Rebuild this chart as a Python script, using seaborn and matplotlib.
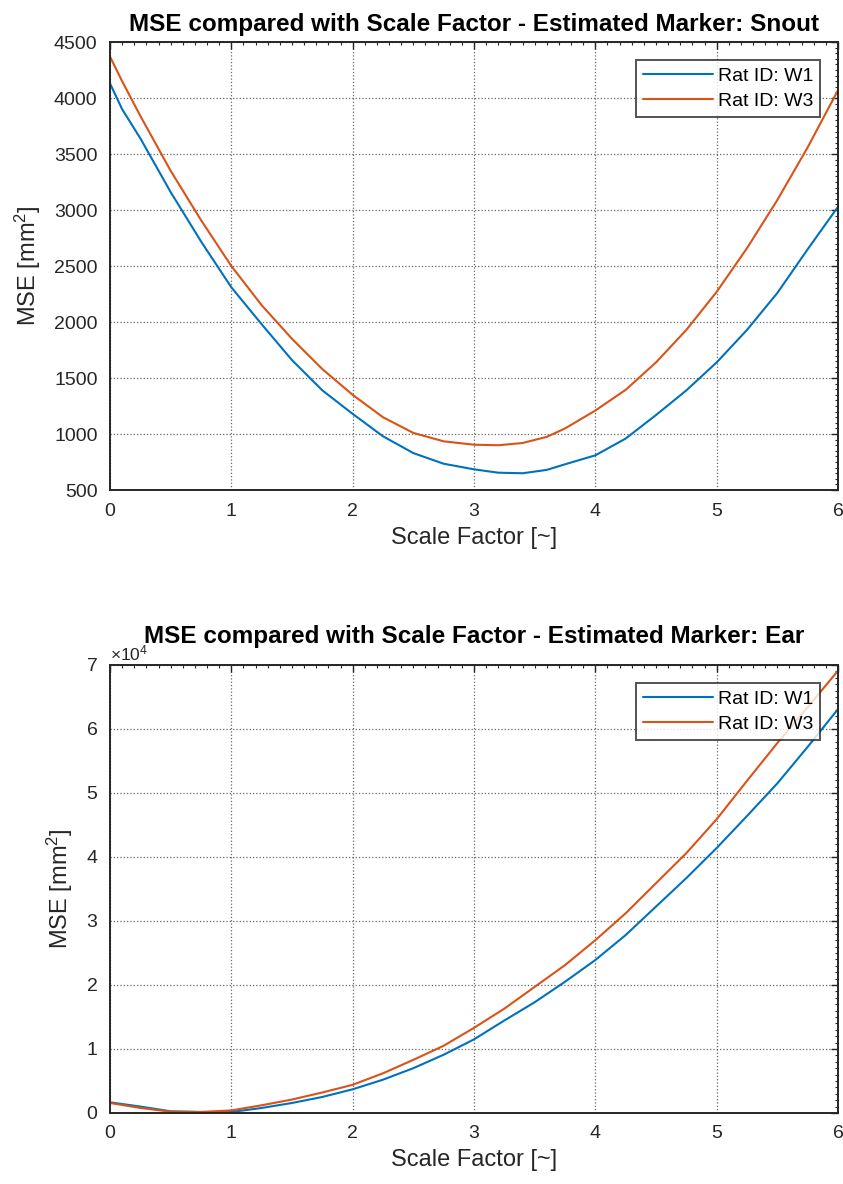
import numpy as np
import pandas as pd
import seaborn as sns
import matplotlib
matplotlib.use("Agg")
import matplotlib.pyplot as plt
from matplotlib.ticker import AutoMinorLocator, FuncFormatter, MultipleLocator

# ---------------- data ----------------
snout_scale = [0, 0.1, 0.25, 0.5, 0.75, 1, 1.25, 1.5, 1.75, 2, 2.25, 2.5, 2.75, 3,
               3.2, 3.4, 3.6, 3.75, 4, 4.25, 4.5, 4.75, 5, 5.25, 5.5, 5.75, 6]
snout_w1 = [4130, 3900, 3640, 3160, 2720, 2310, 1980, 1660, 1390, 1180, 980, 830, 735, 685,
            655, 650, 680, 730, 810, 960, 1170, 1390, 1640, 1930, 2260, 2650, 3030]
snout_w3 = [4370, 4150, 3840, 3350, 2910, 2500, 2150, 1850, 1580, 1350, 1150, 1010, 935, 905,
            900, 920, 975, 1050, 1210, 1395, 1640, 1930, 2270, 2660, 3090, 3560, 4070]

ear_scale = [0, 0.25, 0.5, 0.75, 1, 1.25, 1.5, 1.75, 2, 2.25, 2.5, 2.75, 3,
             3.25, 3.5, 3.75, 4, 4.25, 4.5, 4.75, 5, 5.25, 5.5, 5.75, 6]
ear_w1 = [1660, 1000, 260, 150, 150, 780, 1560, 2500, 3700, 5200, 7000, 9100, 11500,
          14450, 17300, 20500, 23900, 27800, 32250, 36700, 41400, 46400, 51500, 57200, 63100]
ear_w3 = [1560, 780, 200, 150, 400, 1200, 2100, 3200, 4400, 6200, 8300, 10500, 13300,
          16300, 19700, 23100, 27000, 31200, 35900, 40600, 45900, 51900, 57800, 63400, 69100]

series_labels = ["Rat ID: W1", "Rat ID: W3"]
titles = ["MSE compared with Scale Factor - Estimated Marker: Snout",
          "MSE compared with Scale Factor - Estimated Marker: Ear"]
x_label = "Scale Factor [~]"
y_label = "MSE [mm$^2$]"
colors = ["#0072BD", "#D95319"]

# ---------------- style ----------------
sns.set_theme(style="white")
plt.rcParams["font.family"] = ["Liberation Sans", "DejaVu Sans"]
plt.rcParams["mathtext.fontset"] = "custom"
plt.rcParams["mathtext.rm"] = "Liberation Sans"
plt.rcParams["mathtext.it"] = "Liberation Sans"
TXT = "#262626"

fig = plt.figure(figsize=(8.43, 11.84), dpi=100)
ax1 = fig.add_axes([0.1305, 0.5861, 0.8636, 0.3784])
ax2 = fig.add_axes([0.1305, 0.0600, 0.8636, 0.3784])


def draw(ax, xs, y1, y2):
    df = pd.DataFrame({
        "scale": list(xs) * 2,
        "mse": list(y1) + list(y2),
        "rat": [series_labels[0]] * len(xs) + [series_labels[1]] * len(xs),
    })
    sns.lineplot(data=df, x="scale", y="mse", hue="rat", palette=colors,
                 linewidth=1.5, ax=ax, legend=True)


def style(ax, title, ylim, ymajor, tpad):
    ax.set_xlim(0, 6)
    ax.set_ylim(*ylim)
    ax.xaxis.set_major_locator(MultipleLocator(1))
    ax.yaxis.set_major_locator(MultipleLocator(ymajor))
    ax.xaxis.set_minor_locator(AutoMinorLocator(10))
    ax.yaxis.set_minor_locator(AutoMinorLocator(10))
    ax.tick_params(which="both", direction="in", top=True, right=True,
                   colors=TXT, labelsize=14, labelcolor=TXT)
    ax.tick_params(which="major", length=5, width=1.0, pad=9)
    ax.tick_params(which="minor", length=2, width=0.8)
    for s in ax.spines.values():
        s.set_color(TXT)
        s.set_linewidth(1.4)
        s.set_visible(True)
    ax.grid(True, which="major", linestyle=":", color=TXT, linewidth=0.9, alpha=0.7)
    ax.set_xlabel(x_label, fontsize=17, color=TXT, labelpad=5)
    ax.set_ylabel(y_label, fontsize=17, color=TXT, labelpad=8)
    ax.set_title(title, fontsize=17.5, fontweight="bold", color="black", pad=tpad)
    leg = ax.legend(loc="upper right", fontsize=14, frameon=True, fancybox=False,
                    edgecolor=TXT, handlelength=3.55, handletextpad=0.26,
                    borderpad=0.36, labelspacing=0.4, borderaxespad=0.93)
    leg.get_frame().set_linewidth(1.4)
    for t in leg.get_texts():
        t.set_color("black")


draw(ax1, snout_scale, snout_w1, snout_w3)
style(ax1, titles[0], (500, 4500), 500, 8)

draw(ax2, ear_scale, ear_w1, ear_w3)
style(ax2, titles[1], (0, 70000), 10000, 16)
ax2.yaxis.set_major_formatter(FuncFormatter(lambda v, _: f"{v / 1e4:g}"))
ax2.text(0.0, 1.003, r"$\times10^{4}$", transform=ax2.transAxes, ha="left",
         va="bottom", fontsize=12.5, color=TXT, zorder=0)

fig.savefig("out.png", dpi=100, facecolor="white")
